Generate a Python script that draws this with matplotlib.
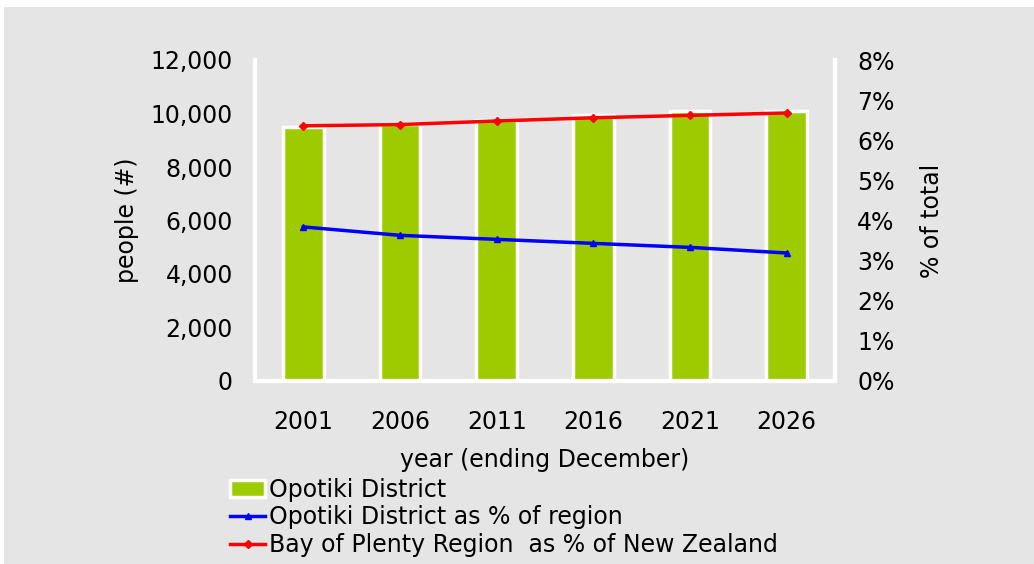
import matplotlib.pyplot as plt
from matplotlib.patches import Rectangle
from matplotlib.ticker import FuncFormatter

years = ["2001", "2006", "2011", "2016", "2021", "2026"]
district_pop = [9490, 9590, 9770, 9940, 10080, 10100]
district_pct_region = [3.84, 3.63, 3.53, 3.43, 3.33, 3.19]
region_pct_nz = [6.36, 6.39, 6.48, 6.56, 6.62, 6.68]

GREEN = "#9dcb00"
GRAY = "#e5e5e5"
FS = 17
plt.rcParams["font.family"] = "DejaVu Sans"

fig = plt.figure(figsize=(10.34, 5.64), dpi=100, facecolor="white")
fig.patches.append(Rectangle((4 / 1034, 0), 1, 1 - 7 / 564, transform=fig.transFigure,
                             facecolor=GRAY, edgecolor="none", zorder=-1))

ax = fig.add_axes([255 / 1034, 183 / 564, 580 / 1034, 321 / 564])
ax.set_facecolor(GRAY)
x = range(len(years))
bars = ax.bar(x, district_pop, width=0.42, color=GREEN, edgecolor="white",
              linewidth=2.5, label="Opotiki District", zorder=2)
ax.set_ylim(0, 12000)
ax.set_xlim(-0.5, len(years) - 0.5)
ax.set_xticks(list(x))
ax.set_xticklabels(years)
ax.yaxis.set_major_formatter(FuncFormatter(lambda v, p: f"{int(v):,}"))
ax.tick_params(length=0, labelsize=FS, pad=16)
ax.tick_params(axis="x", pad=21)
ax.set_ylabel("people (#)", fontsize=FS, labelpad=8)
ax.set_xlabel("year (ending December)", fontsize=FS, labelpad=10)

ax2 = ax.twinx()
l1, = ax2.plot(x, district_pct_region, color="#0000ff", lw=2.5, marker="^", ms=5,
               label="Opotiki District as % of region")
l2, = ax2.plot(x, region_pct_nz, color="#ff0000", lw=2.5, marker="D", ms=4,
               label="Bay of Plenty Region  as % of New Zealand")
ax2.set_ylim(0, 8)
ax2.set_yticks(range(0, 9))
ax2.yaxis.set_major_formatter(FuncFormatter(lambda v, p: f"{int(v)}%"))
ax2.tick_params(length=0, labelsize=FS, pad=16)
ax2.set_ylabel("% of total", fontsize=FS, labelpad=18)

for a in (ax, ax2):
    for side in ("left", "right", "bottom"):
        a.spines[side].set_color("white")
        a.spines[side].set_linewidth(3)
    a.spines["top"].set_visible(False)

fig.legend(handles=[bars, l1, l2], loc="upper left", bbox_to_anchor=(218 / 1034, 1 - 466 / 564),
           frameon=False, fontsize=FS, handlelength=1.5, handletextpad=0.15,
           labelspacing=0.15, borderpad=0)

fig.savefig("out.png", dpi=100, facecolor=fig.get_facecolor())
